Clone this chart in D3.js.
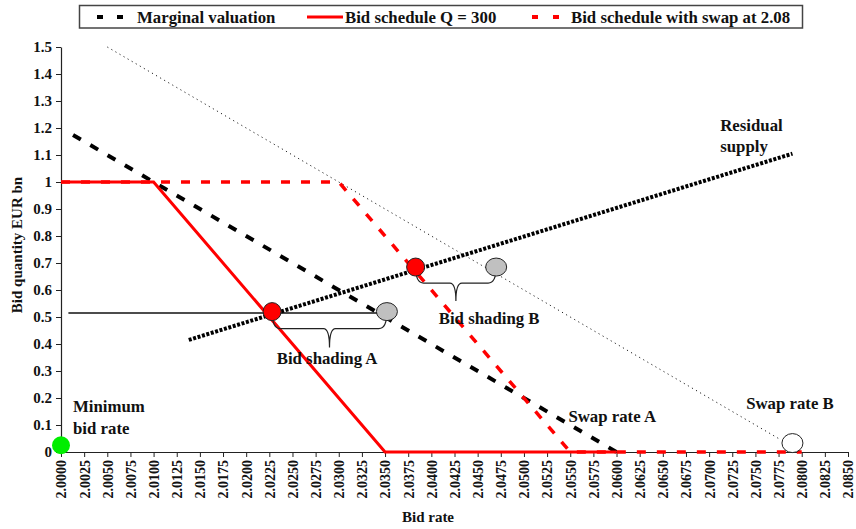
<!DOCTYPE html>
<html><head><meta charset="utf-8">
<script src="https://cdn.jsdelivr.net/npm/d3@7"></script>
<style>body{margin:0;background:#fff}svg{display:block}text{font-family:"Liberation Serif","Times New Roman",serif;font-weight:bold;fill:#111}</style>
</head><body>
<script>
// ---- data ----
const xTicks = d3.range(0, 35).map(i => +(2 + i * 0.0025).toFixed(4));
const yTicks = [0,0.1,0.2,0.3,0.4,0.5,0.6,0.7,0.8,0.9,1,1.1,1.2,1.3,1.4,1.5];
const marginalValuation = [[2.0013, 1.174], [2.0600, 0]];
const bidSchedule300 = [[2.0000, 1], [2.0100, 1], [2.0350, 0], [2.0600, 0]];
const bidScheduleSwap = [[2.0000, 1], [2.0300, 1], [2.0550, 0], [2.0800, 0]];
const residualSupply = [[2.0138, 0.415], [2.0790, 1.105]];
const valuationSwapB = [[2.0050, 1.5], [2.0775, 0.05]];
const shadingLineA = [[2.0008, 0.515], [2.0350, 0.515]];
const redPoints = [[2.0228, 0.52], [2.0383, 0.685]];
const grayPoints = [[2.0352, 0.52], [2.0470, 0.685]];
const swapPointB = [2.0790, 0.033];
const minBidPoint = [2.0000, 0.025];
const legendItems = ["Marginal valuation", "Bid schedule Q = 300", "Bid schedule with swap at 2.08"];

const W = 856, H = 529;
const svg = d3.select("body").append("svg").attr("width", W).attr("height", H);
const x = d3.scaleLinear().domain([2.0, 2.085]).range([61, 848]);
const y = d3.scaleLinear().domain([0, 1.5]).range([452, 47]);

// axes
const xAxis = svg.append("g").attr("transform", `translate(0,${y(0)})`)
  .call(d3.axisBottom(x).tickValues(xTicks).tickFormat(d3.format(".4f")).tickSize(5).tickSizeOuter(0));
xAxis.select(".domain").attr("stroke", "#222").attr("stroke-width", 1.2);
xAxis.selectAll(".tick line").attr("stroke", "#222");
xAxis.selectAll(".tick text").attr("transform", "rotate(-90)").attr("text-anchor", "end")
  .attr("x", -8).attr("y", 0).attr("dy", "0.35em").style("font-size", "14px");
const yAxis = svg.append("g").attr("transform", `translate(${x(2.0)},0)`)
  .call(d3.axisLeft(y).tickValues(yTicks).tickFormat(d => d3.format("")(d)).tickSize(5).tickSizeOuter(0));
yAxis.select(".domain").attr("stroke", "#222").attr("stroke-width", 1.2);
yAxis.selectAll(".tick line").attr("stroke", "#222");
yAxis.selectAll(".tick text").attr("x", -9).style("font-size", "15px");

svg.append("text").attr("transform", "translate(22,245) rotate(-90)").attr("text-anchor", "middle")
  .style("font-size", "15px").text("Bid quantity EUR bn");
svg.append("text").attr("x", 428).attr("y", 522).attr("text-anchor", "middle").style("font-size", "15px").text("Bid rate");

const line = d3.line().x(d => x(d[0])).y(d => y(d[1]));
const draw = (data, color, w, dash) => svg.append("path").datum(data).attr("d", line)
  .attr("fill", "none").attr("stroke", color).attr("stroke-width", w).attr("stroke-dasharray", dash);

draw(shadingLineA, "#111", 1.6, null);
draw(valuationSwapB, "#222", 1, "1.2,3.5");
draw(residualSupply, "#000", 4, "3,1.6");
draw(marginalValuation, "#000", 4, "9,11");
draw(bidSchedule300, "#ff0000", 3, null);
draw(bidScheduleSwap, "#ff0000", 3.5, "9,11");

// braces
function brace(p1, p2, depth, tipDepth) {
  const x1 = x(p1[0]), y1 = y(p1[1]), x2 = x(p2[0]), y2 = y(p2[1]);
  const by = y1 + depth, mx = (x1 + x2) / 2;
  return `M${x1},${y1} Q${x1},${by} ${x1 + 8},${by} L${mx - 6},${by} Q${mx},${by} ${mx},${by + tipDepth}`
    + ` M${mx},${by + tipDepth} Q${mx},${by} ${mx + 6},${by} L${x2 - 8},${by} Q${x2},${by} ${x2},${y2}`;
}
svg.append("path").attr("d", brace(redPoints[0], grayPoints[0], 17, 19)).attr("fill", "none").attr("stroke", "#222").attr("stroke-width", 1.2);
svg.append("path").attr("d", brace(redPoints[1], grayPoints[1], 16, 18)).attr("fill", "none").attr("stroke", "#222").attr("stroke-width", 1.2);

// markers
svg.selectAll(".gp").data(grayPoints).join("ellipse").attr("cx", d => x(d[0])).attr("cy", d => y(d[1]))
  .attr("rx", 10.5).attr("ry", 9).attr("fill", "#c0c0c0").attr("stroke", "#222").attr("stroke-width", 1);
svg.selectAll(".rp").data(redPoints).join("circle").attr("cx", d => x(d[0])).attr("cy", d => y(d[1]))
  .attr("r", 9).attr("fill", "#ff0000").attr("stroke", "#222").attr("stroke-width", 1);
svg.append("ellipse").attr("cx", x(swapPointB[0])).attr("cy", y(swapPointB[1])).attr("rx", 10.5).attr("ry", 9.5)
  .attr("fill", "#fff").attr("stroke", "#222").attr("stroke-width", 1);
svg.append("circle").attr("cx", x(minBidPoint[0])).attr("cy", y(minBidPoint[1])).attr("r", 9).attr("fill", "#00ee00");

// labels
const label = (t, xv, yv) => svg.append("text").attr("x", x(xv)).attr("y", y(yv)).style("font-size", "16.8px").text(t);
label("Minimum", 2.0013, 0.15);
label("bid rate", 2.0013, 0.065);
label("Bid shading A", 2.0233, 0.325);
label("Bid shading B", 2.0408, 0.473);
label("Swap rate A", 2.0548, 0.11);
label("Swap rate B", 2.0740, 0.16);
label("Residual", 2.0712, 1.19);
label("supply", 2.0712, 1.11);

// legend
const lg = svg.append("g");
lg.append("rect").attr("x", 79.5).attr("y", 5.5).attr("width", 723).attr("height", 22.5)
  .attr("fill", "#fff").attr("stroke", "#444").attr("stroke-width", 1.5);
const ly = 17;
lg.append("line").attr("x1", 97).attr("x2", 125).attr("y1", ly).attr("y2", ly).attr("stroke", "#000").attr("stroke-width", 4).attr("stroke-dasharray", "6,14");
lg.append("line").attr("x1", 307).attr("x2", 343).attr("y1", ly).attr("y2", ly).attr("stroke", "#ff0000").attr("stroke-width", 3);
lg.append("line").attr("x1", 532).attr("x2", 560).attr("y1", ly).attr("y2", ly).attr("stroke", "#ff0000").attr("stroke-width", 4).attr("stroke-dasharray", "6,15");
[137, 345, 571].forEach((lx, i) => lg.append("text").attr("x", lx).attr("y", 23).style("font-size", "16.8px").text(legendItems[i]));
</script>
</body></html>
